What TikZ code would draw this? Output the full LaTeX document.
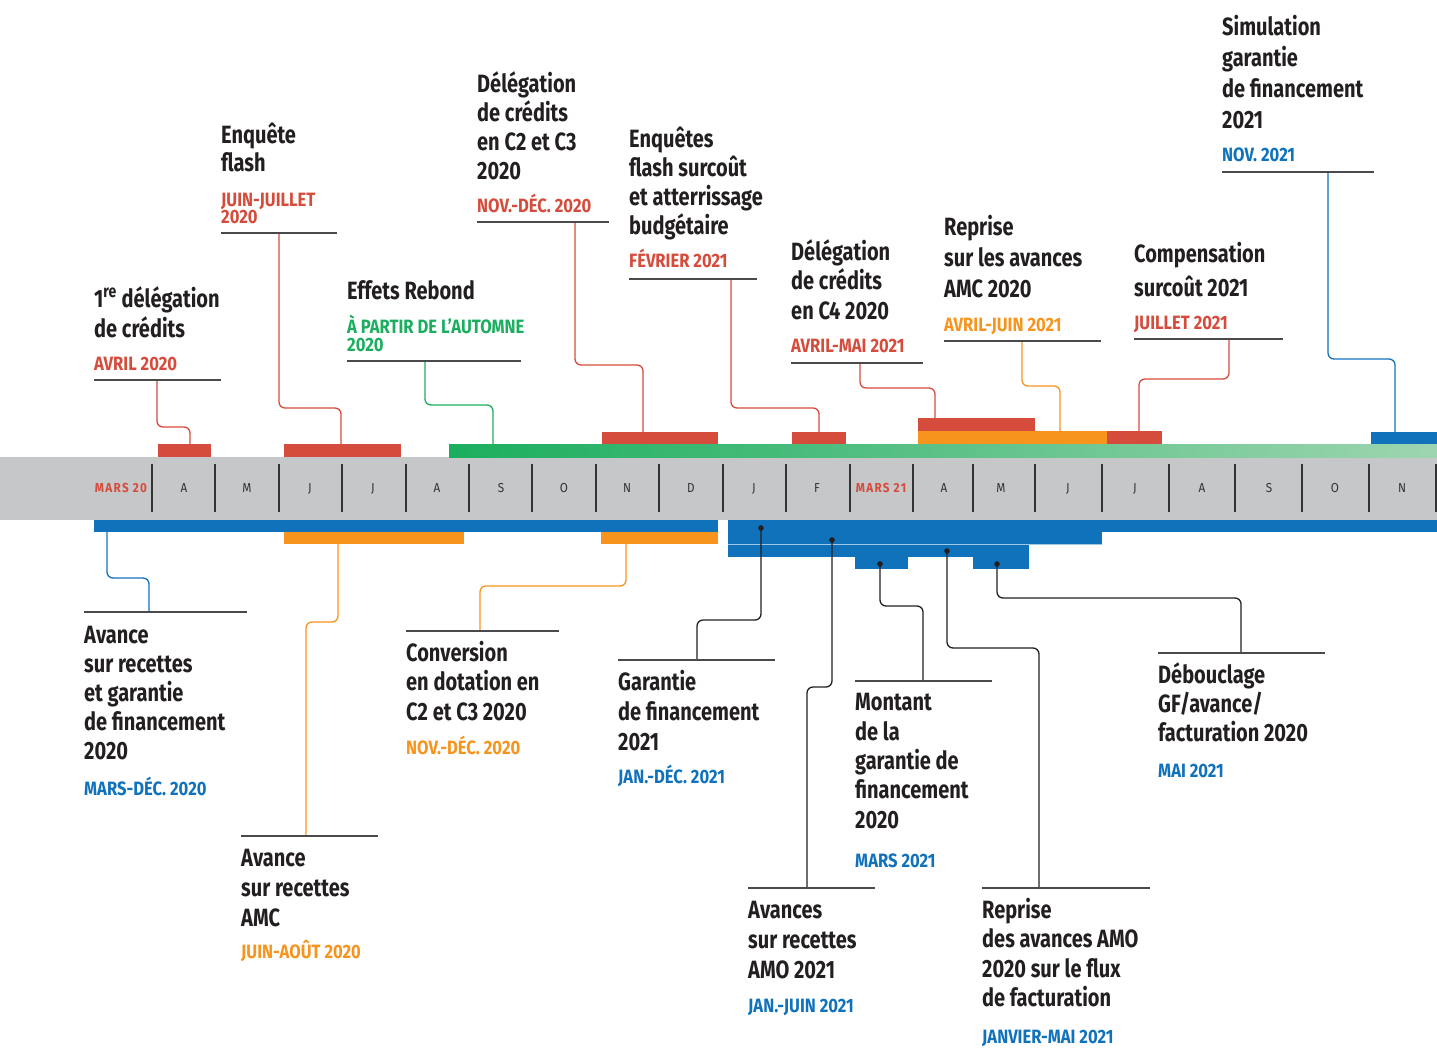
\documentclass[tikz,border=0pt]{standalone}
\usepackage{fontspec}
\newfontfamily\tfont{Fira Sans}[FakeStretch=0.8]
\newfontfamily\dfont{Fira Sans}[FakeStretch=0.86]
\newfontfamily\mfont{Fira Sans}[FakeStretch=0.9,LetterSpace=10]
\definecolor{cred}{HTML}{D54C3C}
\definecolor{corange}{HTML}{F7941D}
\definecolor{cgreen}{HTML}{1BAE5E}
\definecolor{cgreenl}{HTML}{9DD5B0}
\definecolor{cblue}{HTML}{1172BC}
\definecolor{cband}{HTML}{C6C7C9}
\definecolor{ink}{HTML}{231F20}
\definecolor{cline}{HTML}{4A4A4C}
\definecolor{cmonth}{HTML}{333335}
\tikzset{
  ttl/.style={font={\tfont\bfseries\fontsize{25}{#1}\selectfont}, text=ink, align=left, inner sep=0pt, anchor=base west},
  dat/.style={font={\dfont\bfseries\fontsize{19.3}{17.5}\selectfont}, text=#1, align=left, inner sep=0pt, anchor=base west},
  mon/.style={font={\mfont\fontsize{13}{13}\selectfont}, text=cmonth, inner sep=0pt, anchor=base},
  monr/.style={font={\mfont\bfseries\fontsize{13}{13}\selectfont}, text=cred, inner sep=0pt, anchor=base},
  conn/.style={draw=#1, line width=1.3pt, rounded corners=6pt},
  uline/.style={draw=cline, line width=1.2pt},
  sep/.style={draw=cmonth, line width=2pt},
  dotp/.style={fill=ink}
}
\begin{document}
\begin{tikzpicture}[x=1pt,y=-1pt]
\useasboundingbox (0,0) rectangle (1437,1047);

% band
\fill[cband] (0,457) rectangle (1437,520);
\foreach \x in {152,215,279,342,406,469,532,596,659,723,786,850,913,973,1035,1102,1169,1235,1302,1369,1436}
  \draw[sep] (\x,464) -- (\x,512);
\node[monr] (m0) at (121,492.5) {MARS 20};
\node[mon] (m1) at (184,492.5) {A};
\node[mon] (m2) at (247,492.5) {M};
\node[mon] (m3) at (310,492.5) {J};
\node[mon] (m4) at (373,492.5) {J};
\node[mon] (m5) at (437,492.5) {A};
\node[mon] (m6) at (501,492.5) {S};
\node[mon] (m7) at (564,492.5) {O};
\node[mon] (m8) at (627,492.5) {N};
\node[mon] (m9) at (691,492.5) {D};
\node[mon] (m10) at (754,492.5) {J};
\node[mon] (m11) at (817,492.5) {F};
\node[monr] (m12) at (881,492.5) {MARS 21};
\node[mon] (m13) at (944,492.5) {A};
\node[mon] (m14) at (1001,492.5) {M};
\node[mon] (m15) at (1068,492.5) {J};
\node[mon] (m16) at (1135,492.5) {J};
\node[mon] (m17) at (1202,492.5) {A};
\node[mon] (m18) at (1269,492.5) {S};
\node[mon] (m19) at (1335,492.5) {O};
\node[mon] (m20) at (1402,492.5) {N};

% top bars
\shade[left color=cgreen, right color=cgreenl] (449,444) rectangle (1437,457);
\fill[cred] (158,444) rectangle (211,457);
\fill[cred] (284,444) rectangle (401,457);
\fill[cred] (602,432) rectangle (718,444);
\fill[cred] (792,432) rectangle (846,444);
\fill[cred] (918,418) rectangle (1035,431);
\fill[corange] (918,431) rectangle (1107,444);
\fill[cred] (1107,431) rectangle (1162,444);
\fill[cblue] (1371,432) rectangle (1437,444);

% bottom bars
\fill[cblue] (94,520) rectangle (718,532);
\fill[corange] (284,532) rectangle (464,544);
\fill[corange] (601,532) rectangle (718,544);
\fill[cblue] (728,520) rectangle (1437,532);
\fill[cblue] (728,532) rectangle (1102,544);
\fill[cblue] (728,544) rectangle (1029,557);
\fill[cblue] (855,557) rectangle (908,569);
\fill[cblue] (973,557) rectangle (1029,569);
\draw[white!60!cblue, line width=0.8pt] (728,544) -- (1102,544);

% coordinates: connector ends
\coordinate (u1) at (157,381);  \coordinate (b1) at (190,444);
\coordinate (u2) at (279,234);  \coordinate (b2) at (341,444);
\coordinate (u3) at (425,362);  \coordinate (b3) at (493,444);
\coordinate (u4) at (575,223);  \coordinate (b4) at (643,432);
\coordinate (u5) at (731,280);  \coordinate (b5) at (819,432);
\coordinate (u6) at (860,364);  \coordinate (b6) at (935,418);
\coordinate (u7) at (1022,342); \coordinate (b7) at (1060,431);
\coordinate (u8) at (1229,340); \coordinate (b8) at (1139,431);
\coordinate (u9) at (1328,173); \coordinate (b9) at (1395,432);
\coordinate (b10) at (107,532); \coordinate (u10) at (149,612);
\coordinate (b11) at (338,544); \coordinate (u11) at (306,836);
\coordinate (b12) at (626,544); \coordinate (u12) at (480,631);
\coordinate (p13) at (761,528); \coordinate (u13) at (697,660);
\coordinate (p14) at (832,540); \coordinate (u14) at (807,888);
\coordinate (p15) at (880,564); \coordinate (u15) at (923,681);
\coordinate (p16) at (947,551); \coordinate (u16) at (1039,888);
\coordinate (p17) at (997,564); \coordinate (u17) at (1241,653);

% connectors
\draw[conn=cred] (u1) -- ++(0,46) -| (b1);
\draw[conn=cred] (u2) -- ++(0,174) -| (b2);
\draw[conn=cgreen] (u3) -- ++(0,43) -| (b3);
\draw[conn=cred] (u4) -- ++(0,142) -| (b4);
\draw[conn=cred] (u5) -- ++(0,128) -| (b5);
\draw[conn=cred] (u6) -- ++(0,24) -| (b6);
\draw[conn=corange] (u7) -- ++(0,44) -| (b7);
\draw[conn=cred] (u8) -- ++(0,39) -| (b8);
\draw[conn=cblue] (u9) -- ++(0,186) -| (b9);
\draw[conn=cblue] (b10) -- ++(0,46) -| (u10);
\draw[conn=corange] (b11) -- ++(0,78) -| (u11);
\draw[conn=corange] (b12) -- ++(0,42) -| (u12);
\draw[conn=ink] (p13) -- ++(0,92) -| (u13);
\draw[conn=ink] (p14) -- ++(0,147) -| (u14);
\draw[conn=ink] (p15) -- ++(0,42) -| (u15);
\draw[conn=ink] (p16) -- ++(0,97) -| (u16);
\draw[conn=ink] (p17) -- ++(0,34) -| (u17);
\foreach \p in {p13,p14,p15,p16,p17} \fill[dotp] (\p) circle (2.8pt);

% underlines
\draw[uline] (94,380) -- (221,380);
\draw[uline] (221,233) -- (337,233);
\draw[uline] (347,361) -- (521,361);
\draw[uline] (477,222) -- (609,222);
\draw[uline] (629,279) -- (757,279);
\draw[uline] (791,363) -- (923,363);
\draw[uline] (944,341) -- (1101,341);
\draw[uline] (1134,339) -- (1283,339);
\draw[uline] (1222,172) -- (1374,172);
\draw[uline] (84,612) -- (247,612);
\draw[uline] (241,836) -- (378,836);
\draw[uline] (406,631) -- (559,631);
\draw[uline] (618,660) -- (775,660);
\draw[uline] (748,888) -- (875,888);
\draw[uline] (855,681) -- (992,681);
\draw[uline] (982,888) -- (1150,888);
\draw[uline] (1158,653) -- (1325,653);

% top texts (anchor = baseline of last line)
\node[ttl=30] (t1) at (94,337) {1\textsuperscript{re} délégation\\de crédits};
\node[dat=cred] (dt1) at (94,370) {AVRIL 2020};
\node[ttl=28.5] (t2) at (221,171.5) {Enquête\\flash};
\node[dat=cred] (dt2) at (221,223.5) {JUIN-JUILLET\\2020};
\node[ttl=29] (t3) at (347,299) {Effets Rebond};
\node[dat=cgreen] (dt3) at (347,351) {À PARTIR DE L’AUTOMNE\\2020};
\node[ttl=29] (t4) at (477,179) {Délégation\\de crédits\\en C2 et C3\\2020};
\node[dat=cred] (dt4) at (477,212) {NOV.-DÉC. 2020};
\node[ttl=29] (t5) at (629,234) {Enquêtes\\flash surcoût\\et atterrissage\\budgétaire};
\node[dat=cred] (dt5) at (629,267) {FÉVRIER 2021};
\node[ttl=29.7] (t6) at (791,319.4) {Délégation\\de crédits\\en C4 2020};
\node[dat=cred] (dt6) at (791,352) {AVRIL-MAI 2021};
\node[ttl=31.3] (t7) at (944,297.6) {Reprise\\sur les avances\\AMC 2020};
\node[dat=corange] (dt7) at (944,331) {AVRIL-JUIN 2021};
\node[ttl=34] (t8) at (1134,296) {Compensation\\surcoût 2021};
\node[dat=cred] (dt8) at (1134,329) {JUILLET 2021};
\node[ttl=30.7] (t9) at (1222,128) {Simulation\\garantie\\de financement\\2021};
\node[dat=cblue] (dt9) at (1222,161) {NOV. 2021};

% bottom texts
\node[ttl=29] (t10) at (84,759) {Avance\\sur recettes\\et garantie\\de financement\\2020};
\node[dat=cblue] (dt10) at (84,795) {MARS-DÉC. 2020};
\node[ttl=29.7] (t11) at (241,926) {Avance\\sur recettes\\AMC};
\node[dat=corange] (dt11) at (241,958) {JUIN-AOÛT 2020};
\node[ttl=29.2] (t12) at (406,720) {Conversion\\en dotation en\\C2 et C3 2020};
\node[dat=corange] (dt12) at (406,754) {NOV.-DÉC. 2020};
\node[ttl=29.7] (t13) at (618,750) {Garantie\\de financement\\2021};
\node[dat=cblue] (dt13) at (618,783) {JAN.-DÉC. 2021};
\node[ttl=30] (t14) at (748,978) {Avances\\sur recettes\\AMO 2021};
\node[dat=cblue] (dt14) at (748,1012) {JAN.-JUIN 2021};
\node[ttl=29.3] (t15) at (855,828) {Montant\\de la\\garantie de\\financement\\2020};
\node[dat=cblue] (dt15) at (855,867) {MARS 2021};
\node[ttl=29.5] (t16) at (982,1006.5) {Reprise\\des avances AMO\\2020 sur le flux\\de facturation};
\node[dat=cblue] (dt16) at (982,1043) {JANVIER-MAI 2021};
\node[ttl=29.2] (t17) at (1158,741.5) {Débouclage\\GF/avance/\\facturation 2020};
\node[dat=cblue] (dt17) at (1158,777) {MAI 2021};
\end{tikzpicture}
\end{document}
